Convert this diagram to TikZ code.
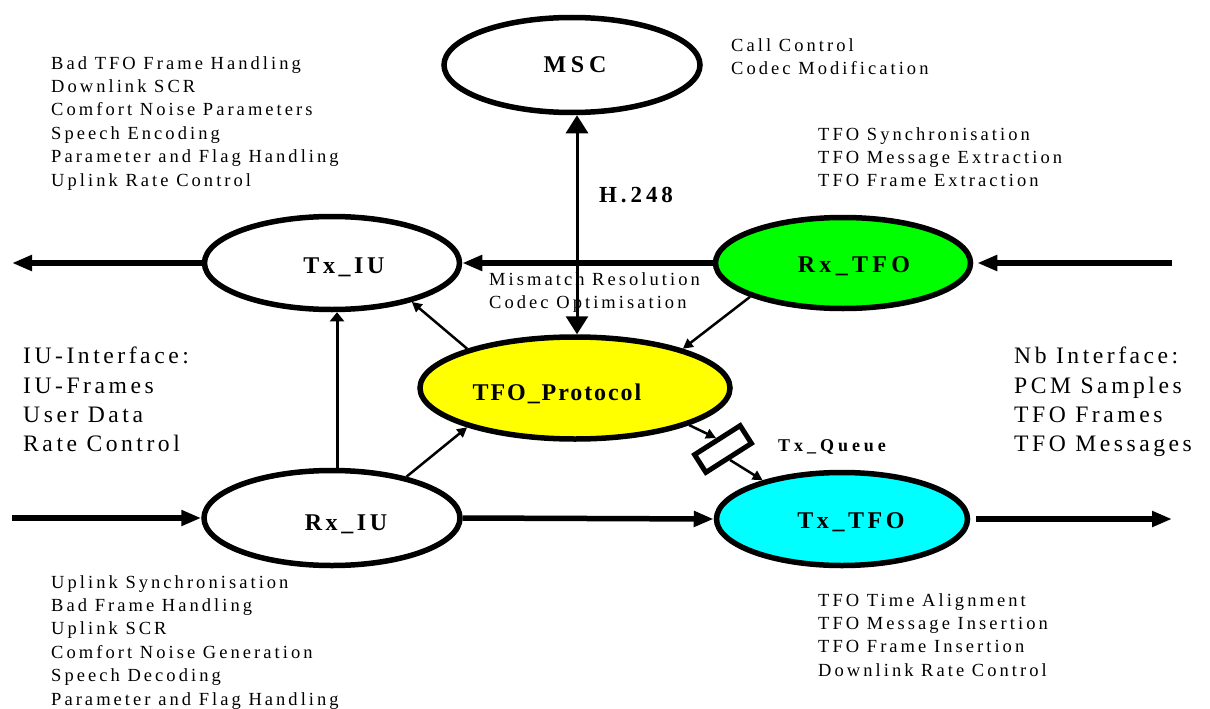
\documentclass[tikz,border=0pt]{standalone}
\usepackage{fontspec}
\setmainfont{Liberation Serif}
\usetikzlibrary{arrows.meta,shapes.geometric}
\newcommand{\lsp}[1]{\addfontfeature{LetterSpace=#1}}
\definecolor{pyellow}{RGB}{255,255,0}
\definecolor{pgreen}{RGB}{0,255,0}
\definecolor{pcyan}{RGB}{0,255,255}
\begin{document}
\begin{tikzpicture}[x=1pt,y=-1pt,
  proc/.style={ellipse, draw, line width=5.5pt, inner sep=0pt},
  lbl/.style={inner sep=0pt, anchor=base, font=\fontsize{24}{28}\selectfont\bfseries\lsp{15}},
  txt/.style={anchor=north west, inner sep=0pt, align=left, font=\fontsize{18.5}{23.4}\selectfont\lsp{16.5}},
  bigtxt/.style={anchor=north west, inner sep=0pt, align=left, font=\fontsize{23.6}{29.2}\selectfont\lsp{15}},
  flow/.style={line width=5.5pt, -{Triangle[length=20pt,width=15pt]}},
  ctl/.style={line width=2.5pt, -{Triangle[length=10pt,width=10pt]}},
  queue/.style={rectangle, draw, line width=5pt, minimum width=54pt, minimum height=21pt, inner sep=0pt},
]
\useasboundingbox (0,0) rectangle (1210,709);

% processes
\node[proc, minimum width=256pt, minimum height=95pt] (msc) at (572,65) {};
\node[proc, minimum width=255pt, minimum height=93pt] (txiu) at (332,263) {};
\node[proc, fill=pgreen, minimum width=255pt, minimum height=91pt] (rxtfo) at (843,263) {};
\node[proc, fill=pyellow, minimum width=310pt, minimum height=102pt] (tfop) at (575,388) {};
\node[proc, minimum width=256pt, minimum height=95pt] (rxiu) at (332,518) {};
\node[proc, fill=pcyan, minimum width=251pt, minimum height=93pt] (txtfo) at (842,519) {};
\node[queue, rotate=32.5] (txq) at (723,449) {};

% labels
\node[lbl, font=\fontsize{24}{28}\selectfont\bfseries\lsp{20}] (mscl) at ([xshift=3pt, yshift=-8pt]msc.center) {MSC};
\node[lbl] (txiul) at ([xshift=12pt, yshift=-10pt]txiu.center) {Tx\_IU};
\node[lbl, font=\fontsize{24}{28}\selectfont\bfseries\lsp{18}] (rxtfol) at ([xshift=11pt, yshift=-9pt]rxtfo.center) {Rx\_TFO};
\node[lbl, font=\fontsize{24}{28}\selectfont\bfseries\lsp{8}] (tfopl) at ([xshift=-18pt, yshift=-12pt]tfop.center) {TFO\_Protocol};
\node[lbl] (rxiul) at ([xshift=14pt, yshift=-12pt]rxiu.center) {Rx\_IU};
\node[lbl] (txtfol) at ([xshift=9pt, yshift=-9pt]txtfo.center) {Tx\_TFO};
\node[inner sep=0pt, anchor=base west, font=\fontsize{23}{28}\selectfont\bfseries\lsp{17}] (h248) at (599,202) {H.248};
\node[inner sep=0pt, anchor=base west, font=\fontsize{18}{22}\selectfont\bfseries\lsp{22}] (txql) at (778,451) {Tx\_Queue};

% text blocks
\node[txt] (tlb) at (51,56) {Bad TFO Frame Handling\\Downlink SCR\\Comfort Noise Parameters\\Speech Encoding\\Parameter and Flag Handling\\Uplink Rate Control};
\node[txt] (mscb) at (731,38) {Call Control\\Codec Modification};
\node[txt] (rxtfob) at (818,127) {TFO Synchronisation\\TFO Message Extraction\\TFO Frame Extraction};
\node[txt] (tfob) at (489,272) {Mismatch Resolution\\Codec Optimisation};
\node[bigtxt] (iub) at (23,347) {IU-Interface:\\IU-Frames\\User Data\\Rate Control};
\node[bigtxt] (nbb) at (1014,347) {Nb Interface:\\PCM Samples\\TFO Frames\\TFO Messages};
\node[txt] (rxiub) at (51,575) {Uplink Synchronisation\\Bad Frame Handling\\Uplink SCR\\Comfort Noise Generation\\Speech Decoding\\Parameter and Flag Handling};
\node[txt] (txtfob) at (818,593) {TFO Time Alignment\\TFO Message Insertion\\TFO Frame Insertion\\Downlink Rate Control};

% free ends
\coordinate (outL) at (12,263);
\coordinate (inR) at (1172,263);
\coordinate (inL) at (12,518);
\coordinate (outR) at (1172,519);

% main flows
\draw[flow] (txiu.west) -- (outL);
\draw[flow] (rxtfo.west) -- (txiu.east);
\draw[flow, shorten >=4pt] (inR) -- (rxtfo.east);
\draw[flow] (inL) -- (rxiu.west);
\draw[flow] (rxiu.east) -- (txtfo.west);
\draw[flow, shorten <=6pt] (txtfo.east) -- (outR);

% control
\draw[line width=3pt, -{Triangle[length=9pt,width=14pt]}] ([xshift=5pt]rxiu.north) -- ([xshift=5pt]txiu.south);
\draw[line width=3pt, {Triangle[length=18pt,width=22pt]}-{Triangle[length=18pt,width=22pt]}] ([xshift=5pt]msc.south) -- ([xshift=2pt]tfop.north);
\draw[ctl] (tfop.160.6) -- (txiu.-26.6);
\draw[ctl] (rxtfo.-160.9) -- (tfop.20);
\draw[ctl] (rxiu.29) -- (tfop.-160.3);
\draw[ctl] (tfop.-18.7) -- (txq.north);
\draw[ctl] (txq.south) -- (txtfo.154.6);
\end{tikzpicture}
\end{document}
